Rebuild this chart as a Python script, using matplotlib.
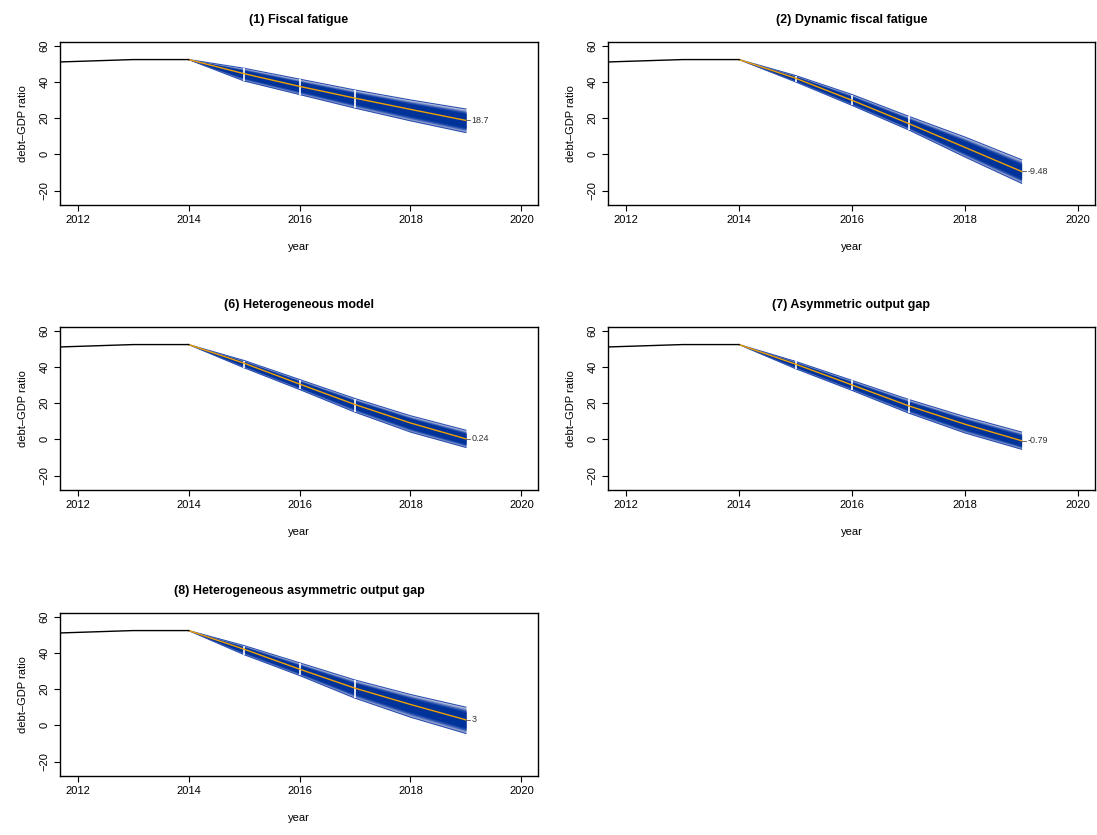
import matplotlib.pyplot as plt
import numpy as np

hist_years = [2011, 2012, 2013, 2014]
hist_values = [50.3, 51.3, 52.3, 52.3]
fan_years = [2014, 2015, 2016, 2017, 2018, 2019]

titles = [
    "(1) Fiscal fatigue",
    "(2) Dynamic fiscal fatigue",
    "(6) Heterogeneous model",
    "(7) Asymmetric output gap",
    "(8) Heterogeneous asymmetric output gap",
]
medians = [
    [52.3, 44.5, 37.5, 31.0, 24.8, 18.7],
    [52.3, 42.0, 29.8, 17.0, 3.8, -9.48],
    [52.3, 42.0, 30.5, 19.2, 9.0, 0.24],
    [52.3, 41.5, 30.0, 18.5, 8.3, -0.79],
    [52.3, 42.0, 31.0, 20.5, 11.5, 3.0],
]
lower = [
    [52.3, 40.5, 33.0, 25.5, 18.5, 12.0],
    [52.3, 40.0, 27.0, 13.5, -1.5, -16.0],
    [52.3, 39.5, 27.5, 15.0, 4.0, -4.5],
    [52.3, 39.0, 27.0, 14.5, 3.5, -5.5],
    [52.3, 39.0, 27.5, 15.0, 4.5, -4.5],
]
upper = [
    [52.3, 47.5, 41.5, 35.5, 30.0, 25.0],
    [52.3, 43.5, 33.0, 21.0, 9.5, -3.0],
    [52.3, 43.5, 33.0, 22.5, 13.0, 5.0],
    [52.3, 43.0, 32.5, 22.0, 12.5, 4.0],
    [52.3, 44.0, 34.5, 25.0, 17.0, 10.0],
]
end_labels = ["18.7", "-9.48", "0.24", "-0.79", "3"]

levels = [1.0, 0.9, 0.8, 0.7, 0.6]
colors = ["#b8c0dc", "#8192c8", "#3f62b8", "#1443a6", "#003399"]

plt.rcParams["font.family"] = ["Liberation Sans", "DejaVu Sans"]
fig = plt.figure(figsize=(10.97, 8.35), dpi=100)
W, H = 1097, 835
boxes = [(60, 42, 538, 205), (608, 42, 1095, 205),
         (60, 327, 538, 490), (608, 327, 1095, 490),
         (60, 613, 538, 776)]

for i, (l, t, r, b) in enumerate(boxes):
    ax = fig.add_axes([l / W, 1 - b / H, (r - l) / W, (b - t) / H])
    x = np.array(fan_years)
    med = np.array(medians[i])
    lo = np.array(lower[i])
    hi = np.array(upper[i])
    for lev, c in zip(levels, colors):
        ax.fill_between(x, med - lev * (med - lo), med + lev * (hi - med),
                        color=c, lw=0)
    ax.plot(x, lo, color="#2a4fb0", lw=0.8)
    ax.plot(x, hi, color="#2a4fb0", lw=0.8)
    for k in (1, 2, 3):
        ax.vlines(x[k], lo[k], hi[k], color="white", lw=1.2)
    ax.plot(x, med, color="#f0a000", lw=1.0)
    ax.plot(hist_years, hist_values, color="black", lw=1.0)
    ax.plot([2019, 2019.08], [med[-1], med[-1]], color="#555555", lw=0.6)
    ax.text(2019.1, med[-1], end_labels[i], fontsize=6.5, va="center",
            color="#333333")
    ax.set_xlim(2011.68, 2020.3)
    ax.set_ylim(-28, 62)
    ax.set_xticks([2012, 2014, 2016, 2018, 2020])
    ax.set_yticks([-20, 0, 20, 40, 60])
    ax.set_yticklabels(["\u221220", "0", "20", "40", "60"], rotation=90,
                       va="center")
    ax.tick_params(labelsize=8, length=4)
    ax.set_xlabel("year", fontsize=8, labelpad=12)
    ax.set_ylabel("debt\u2013GDP ratio", fontsize=8, labelpad=8)
    ax.set_title(titles[i], fontsize=9, fontweight="bold", pad=14)
    for s in ax.spines.values():
        s.set_linewidth(1.0)

fig.savefig("out.png", dpi=100)
